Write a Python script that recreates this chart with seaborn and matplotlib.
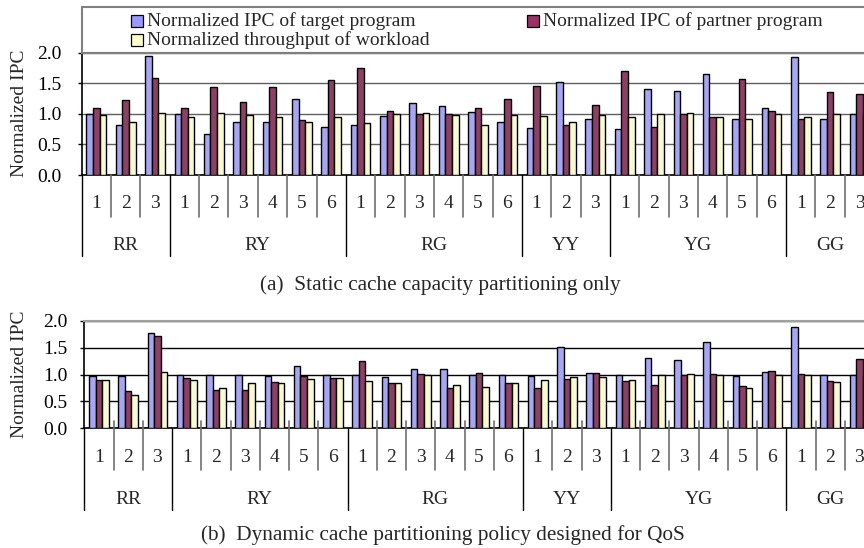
import pandas as pd
import matplotlib.pyplot as plt
import seaborn as sns
from matplotlib.lines import Line2D
from matplotlib.patches import Rectangle
from matplotlib.transforms import blended_transform_factory

# ==========================================
# Data
# ==========================================

families = ["RR", "RY", "RG", "YY", "YG", "GG"]
family_sizes = [3, 6, 6, 3, 6, 3]

series_names = [
    "Normalized IPC of target program",
    "Normalized IPC of partner program",
    "Normalized throughput of workload",
]

# (a) static cache capacity partitioning only
static_target = [1.00, 0.82, 1.945, 1.00, 0.67, 0.87, 0.87, 1.24, 0.78,
                 0.82, 0.97, 1.17, 1.12, 1.03, 0.87, 0.77, 1.52, 0.915,
                 0.75, 1.40, 1.37, 1.65, 0.92, 1.09, 1.92, 0.91, 0.99]
static_partner = [1.09, 1.22, 1.58, 1.10, 1.44, 1.19, 1.44, 0.89, 1.545,
                  1.74, 1.05, 1.00, 0.99, 1.10, 1.24, 1.45, 0.81, 1.145,
                  1.70, 0.78, 0.99, 0.94, 1.56, 1.05, 0.92, 1.36, 1.33]
static_thru = [0.975, 0.87, 1.01, 0.94, 1.01, 0.98, 0.95, 0.87, 0.95,
               0.85, 0.99, 1.01, 0.98, 0.81, 0.98, 0.96, 0.87, 0.98,
               0.95, 1.00, 1.01, 0.95, 0.91, 0.99, 0.94, 0.99, 1.00]

# (b) dynamic cache partitioning policy designed for QoS
dyn_target = [0.98, 0.97, 1.765, 0.985, 0.985, 0.985, 0.97, 1.16, 0.985,
              0.985, 0.96, 1.10, 1.11, 0.99, 0.985, 0.98, 1.505, 1.02,
              0.985, 1.30, 1.275, 1.60, 0.97, 1.045, 1.89, 0.985, 0.985]
dyn_partner = [0.90, 0.69, 1.72, 0.94, 0.72, 0.71, 0.86, 0.98, 0.94,
               1.26, 0.85, 1.015, 0.75, 1.03, 0.85, 0.75, 0.92, 1.02,
               0.87, 0.80, 0.99, 1.015, 0.78, 1.07, 1.01, 0.88, 1.29]
dyn_thru = [0.90, 0.61, 1.05, 0.89, 0.74, 0.85, 0.84, 0.92, 0.94,
            0.885, 0.85, 0.99, 0.81, 0.77, 0.85, 0.90, 0.95, 0.95,
            0.89, 0.99, 1.015, 0.99, 0.755, 0.99, 0.99, 0.86, 0.99]

y_ticks = [0.0, 0.5, 1.0, 1.5, 2.0]
y_tick_labels = ["0.0", "0.5", "1.0", "1.5", "2.0"]

captions = [
    "(a)  Static cache capacity partitioning only",
    "(b)  Dynamic cache partitioning policy designed for QoS",
]

# ==========================================
# Style
# ==========================================

BLUE = "#9999FF"
PLUM = "#993366"
CREAM = "#FFFFCC"
palette = dict(zip(series_names, [BLUE, PLUM, CREAM]))

sns.set_theme(style="white")
plt.rcParams["font.family"] = ["Liberation Serif", "DejaVu Serif"]
FS = 14

W, H = 864, 548
fig = plt.figure(figsize=(W / 100, H / 100), dpi=100)


def fy(y):
    return 1 - y / H


# workload ids in order
workloads = []
member_no = []
for fam, n in zip(families, family_sizes):
    for k in range(1, n + 1):
        workloads.append(f"{fam}{k}")
        member_no.append(str(k))


def draw_panel(ax, target, partner, thru, axis_y, num_y, short_span, long_end,
               grid_color, top_color, tick_pad):
    df = pd.DataFrame({
        "workload": workloads * 3,
        "series": [series_names[0]] * 27 + [series_names[1]] * 27 + [series_names[2]] * 27,
        "value": target + partner + thru,
    })
    sns.barplot(
        data=df, x="workload", y="value", hue="series",
        order=workloads, hue_order=series_names, palette=palette,
        width=0.675, edgecolor="black", linewidth=1.0,
        legend=False, ax=ax, zorder=3,
    )
    ax.set_xlim(-0.5, 26.5)
    ax.set_ylim(0, 2.0)
    ax.set_yticks(y_ticks)
    ax.set_yticklabels(y_tick_labels)
    ax.set_xlabel("")
    ax.set_ylabel("")
    ax.set_axisbelow(True)
    ax.yaxis.grid(True, color=grid_color, linewidth=1.0)
    ax.tick_params(axis="y", left=True, length=3, width=1, pad=tick_pad,
                   labelsize=FS, colors="black")
    ax.tick_params(axis="x", bottom=False, labelbottom=False)
    for side in ["left", "bottom"]:
        ax.spines[side].set_color("black")
        ax.spines[side].set_linewidth(1.2)
    ax.spines["top"].set_color(top_color)
    ax.spines["top"].set_linewidth(1.5)
    ax.spines["right"].set_visible(False)

    trans = blended_transform_factory(ax.transData, fig.transFigure)

    # separators below the axis
    long_pos = []
    start = 0
    for n in family_sizes:
        long_pos.append(start - 0.5)
        start += n
    for b in range(27):
        pos = b - 0.5
        if pos in long_pos:
            fig.add_artist(Line2D([pos, pos], [fy(axis_y), fy(long_end)],
                                  transform=trans, color="black", lw=1.0))
        else:
            fig.add_artist(Line2D([pos, pos], [fy(short_span[0]), fy(short_span[1])],
                                  transform=trans, color="#707070", lw=1.2))

    for i, lab in enumerate(member_no):
        ax.text(i, fy(num_y), lab, transform=trans, ha="center", va="center",
                fontsize=FS)

    start = 0
    for fam, n in zip(families, family_sizes):
        ax.text(start + (n - 1) / 2, fy(num_y + 42), fam, transform=trans,
                ha="center", va="center", fontsize=FS)
        start += n


# ==========================================
# Panel (a)
# ==========================================

ax_a = fig.add_axes([81.7 / W, fy(175), 792.5 / W, 122.5 / H])
draw_panel(ax_a, static_target, static_partner, static_thru,
           axis_y=175, num_y=203, short_span=(175, 217), long_end=256,
           grid_color="#606060", top_color="#808080", tick_pad=11.5)

# ==========================================
# Panel (b)
# ==========================================

ax_b = fig.add_axes([84.3 / W, fy(428.3), 789.7 / W, 107.6 / H])
draw_panel(ax_b, dyn_target, dyn_partner, dyn_thru,
           axis_y=428.3, num_y=457, short_span=(421, 470), long_end=510,
           grid_color="black", top_color="#a0a0a0", tick_pad=9)

# y labels and captions
fig.text(19.5 / W, fy(113.5), "Normalized IPC", rotation=90,
         ha="center", va="center", fontsize=FS)
fig.text(19.5 / W, fy(374), "Normalized IPC", rotation=90,
         ha="center", va="center", fontsize=FS)
fig.text(440 / W, fy(285), captions[0], ha="center", va="center", fontsize=15.3)
fig.text(443 / W, fy(535), captions[1], ha="center", va="center", fontsize=15.3)

# ==========================================
# Legend box on top of panel (a)
# ==========================================

fig.add_artist(Rectangle((81.7 / W, fy(52.5)), 900 / W, 45.5 / H,
                         transform=fig.transFigure, facecolor="white",
                         edgecolor="#808080", lw=1.5, zorder=0))

legend_items = [
    (series_names[0], BLUE, 131, 20.7),
    (series_names[2], CREAM, 131, 40.0),
    (series_names[1], PLUM, 527, 20.7),
]
for name, color, x, y in legend_items:
    fig.add_artist(Rectangle((x / W, fy(y + 6)), 12 / W, 12 / H,
                             transform=fig.transFigure, facecolor=color,
                             edgecolor="black", lw=0.9))
    fig.text((x + 16) / W, fy(y), name, ha="left", va="center", fontsize=FS)

fig.savefig("out.png", dpi=100)
